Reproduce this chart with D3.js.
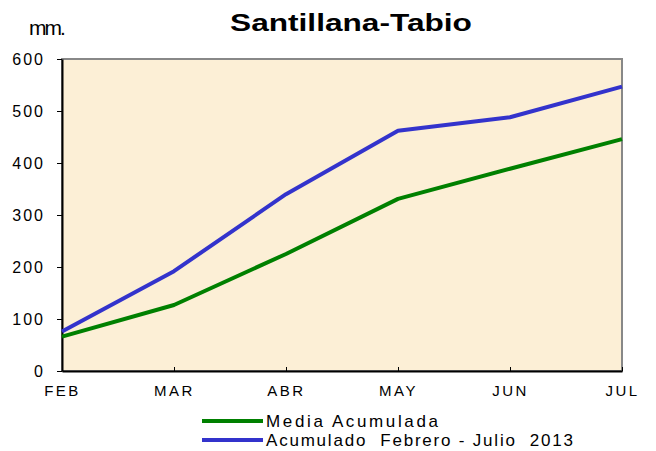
<!DOCTYPE html>
<meta charset="utf-8">
<style>
body { margin: 0; background: #fff; }
svg { font-family: "Liberation Sans", Arial, sans-serif; }
.axis path, .axis line { stroke: #000; }
.y .tick text { font-size: 16px; fill: #000; letter-spacing: 2px; }
.x .tick text { font-size: 15px; fill: #000; letter-spacing: 2.5px; }
</style>
<svg width="656" height="451"></svg>
<script src="https://d3js.org/d3.v7.min.js"></script>
<script>
var months = ["FEB", "MAR", "ABR", "MAY", "JUN", "JUL"];
var media = [66, 127, 225, 331, 389, 446];
var acumulado = [76, 192, 340, 462, 488, 547];
var yTicks = [0, 100, 200, 300, 400, 500, 600];

var series = [
    {name: "Media Acumulada", values: media, color: "#008000", len: 172},
    {name: "Acumulado  Febrero - Julio  2013", values: acumulado, color: "#3333cc", len: 307}
];

var svg = d3.select("svg");
var plotL = 62, plotT = 59, plotR = 622, plotB = 371;

var x = d3.scalePoint().domain(months).range([plotL, plotR]);
var y = d3.scaleLinear().domain([0, 600]).range([plotB, plotT]);

// plot background + gray frame
svg.append("rect")
    .attr("x", plotL).attr("y", plotT)
    .attr("width", plotR - plotL).attr("height", plotB - plotT)
    .attr("fill", "#fcefd6")
    .attr("stroke", "#888").attr("stroke-width", 2);

svg.append("g")
    .attr("class", "axis y")
    .attr("transform", "translate(" + plotL + ",0)")
    .call(d3.axisLeft(y).tickValues(yTicks).tickSize(5).tickSizeOuter(0).tickPadding(12))
    .select(".domain").attr("stroke-width", 2);

svg.append("g")
    .attr("class", "axis x")
    .attr("transform", "translate(0," + plotB + ")")
    .call(d3.axisBottom(x).tickSize(-4).tickSizeOuter(0).tickPadding(14))
    .select(".domain").attr("stroke-width", 2);

var line = d3.line()
    .x(function(d, i) { return x(months[i]); })
    .y(function(d) { return y(d); });

svg.selectAll(".series")
    .data(series)
    .enter().append("path")
        .attr("class", "series")
        .attr("d", function(d) { return line(d.values); })
        .attr("fill", "none")
        .attr("stroke", function(d) { return d.color; })
        .attr("stroke-width", 4)
        .attr("stroke-linejoin", "round");

// title looks horizontally stretched in the original
var title = svg.append("text")
    .attr("text-anchor", "middle")
    .style("font-size", "24px").style("font-weight", "bold")
    .text("Santillana-Tabio");
var sx = 242 / title.node().getComputedTextLength();
title.attr("transform", "translate(351,31) scale(" + sx + ",1)");

svg.append("text")
    .attr("x", 29).attr("y", 35)
    .style("font-size", "21px").style("letter-spacing", "-2px")
    .text("mm.");

var legend = svg.selectAll(".legend")
    .data(series)
    .enter().append("g")
        .attr("class", "legend")
        .attr("transform", function(d, i) { return "translate(202," + (421 + i * 19) + ")"; });

legend.append("line")
    .attr("x1", 0).attr("x2", 61)
    .attr("stroke", function(d) { return d.color; })
    .attr("stroke-width", 4);

legend.append("text")
    .attr("x", 64).attr("y", 6)
    .attr("xml:space", "preserve").style("white-space", "pre")
    .attr("textLength", function(d) { return d.len; }).attr("lengthAdjust", "spacing")
    .style("font-size", "17px")
    .text(function(d) { return d.name; });
</script>
